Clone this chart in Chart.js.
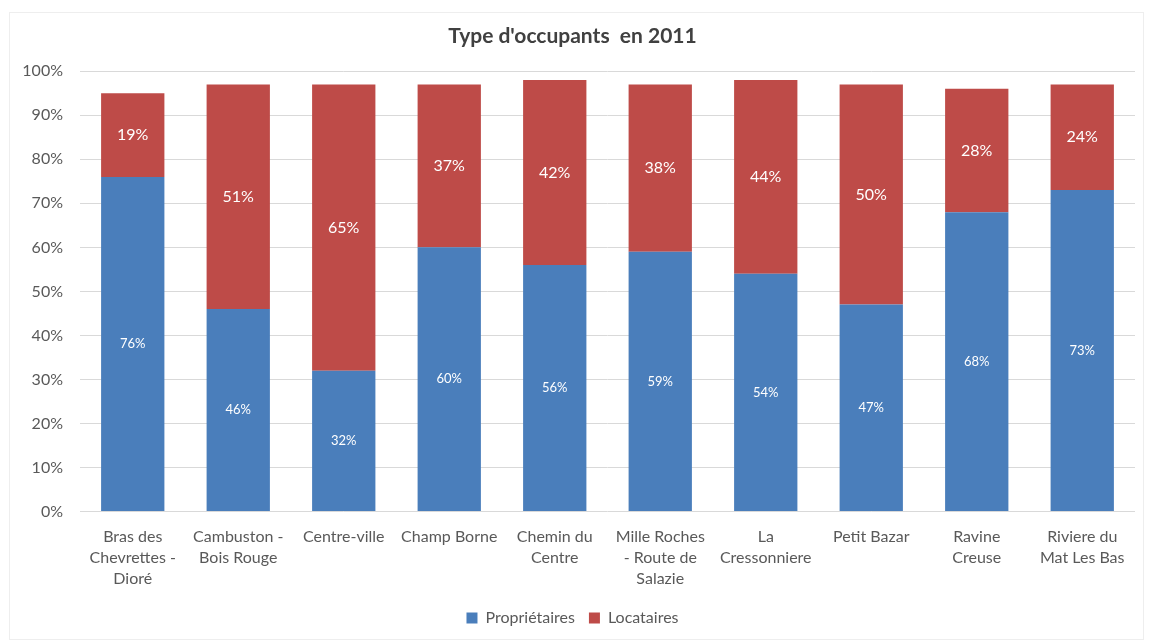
<!DOCTYPE html>
<html>
<head>
<meta charset="utf-8">
<script src="https://cdn.jsdelivr.net/npm/chart.js@4"></script>
<style>
  html, body { margin: 0; padding: 0; background: #fff; }
  #wrap { position: relative; width: 1152px; height: 642px; }
  #frame { position: absolute; left: 9px; top: 12px; right: 8px; bottom: 2px; border: 1px solid #eeeeee; pointer-events: none; }
</style>
</head>
<body>
<div id="wrap">
  <canvas id="chart" width="1152" height="642"></canvas>
  <div id="frame"></div>
</div>
<script>
const quartiers = [
  ["Bras des", "Chevrettes -", "Dioré"],
  ["Cambuston -", "Bois Rouge"],
  "Centre-ville",
  "Champ Borne",
  ["Chemin du", "Centre"],
  ["Mille Roches", "- Route de", "Salazie"],
  ["La", "Cressonniere"],
  "Petit Bazar",
  ["Ravine", "Creuse"],
  ["Riviere du", "Mat Les Bas"]
];
const proprietaires = [76, 46, 32, 60, 56, 59, 54, 47, 68, 73];
const locataires = [19, 51, 65, 37, 42, 38, 44, 50, 28, 24];
const yTicks = [0, 10, 20, 30, 40, 50, 60, 70, 80, 90, 100];

const FONT = "Lato, 'Open Sans', sans-serif";
const BLUE = "#4a7ebb";
const RED = "#be4b48";

// white percentage labels in the middle of each segment
const segmentLabels = {
  id: "segmentLabels",
  afterDatasetsDraw(chart) {
    const ctx = chart.ctx;
    ctx.save();
    ctx.fillStyle = "#ffffff";
    ctx.textAlign = "center";
    ctx.textBaseline = "middle";
    chart.data.datasets.forEach((ds, i) => {
      const meta = chart.getDatasetMeta(i);
      ctx.font = (i === 0 ? "13px " : "16px ") + FONT;
      meta.data.forEach((bar, j) => {
        const mid = (bar.y + bar.base) / 2;
        ctx.fillText(ds.data[j] + "%", bar.x, mid);
      });
    });
    ctx.restore();
  }
};

new Chart(document.getElementById("chart"), {
  type: "bar",
  data: {
    labels: quartiers,
    datasets: [
      { label: "Propriétaires", data: proprietaires, backgroundColor: BLUE },
      { label: "Locataires", data: locataires, backgroundColor: RED }
    ]
  },
  options: {
    responsive: false,
    animation: false,
    layout: { padding: { left: 10, right: 17, top: 0, bottom: 6 } },
    datasets: { bar: { categoryPercentage: 0.6, barPercentage: 1 } },
    plugins: {
      title: {
        display: true,
        text: "Type d'occupants  en 2011",
        color: "#404040",
        font: { family: FONT, size: 21, weight: "bold" },
        padding: { top: 24, bottom: 22 }
      },
      legend: {
        position: "bottom",
        labels: {
          color: "#595959",
          font: { family: FONT, size: 16 },
          boxWidth: 11,
          boxHeight: 11,
          padding: 14
        }
      },
      tooltip: { enabled: false }
    },
    scales: {
      x: {
        stacked: true,
        grid: { display: false },
        border: { display: false },
        ticks: {
          color: "#595959",
          font: { family: FONT, size: 16, lineHeight: 1.3 },
          maxRotation: 0,
          autoSkip: false,
          padding: 7
        }
      },
      y: {
        stacked: true,
        min: 0,
        max: 100,
        afterFit(scale) { scale.width = 70; },
        afterBuildTicks(scale) { scale.ticks = yTicks.map(v => ({ value: v })); },
        grid: { color: "#d9d9d9", drawTicks: false },
        border: { display: false },
        ticks: {
          color: "#595959",
          font: { family: FONT, size: 16 },
          padding: 17,
          callback: v => v + "%"
        }
      }
    }
  },
  plugins: [segmentLabels]
});
</script>
</body>
</html>
